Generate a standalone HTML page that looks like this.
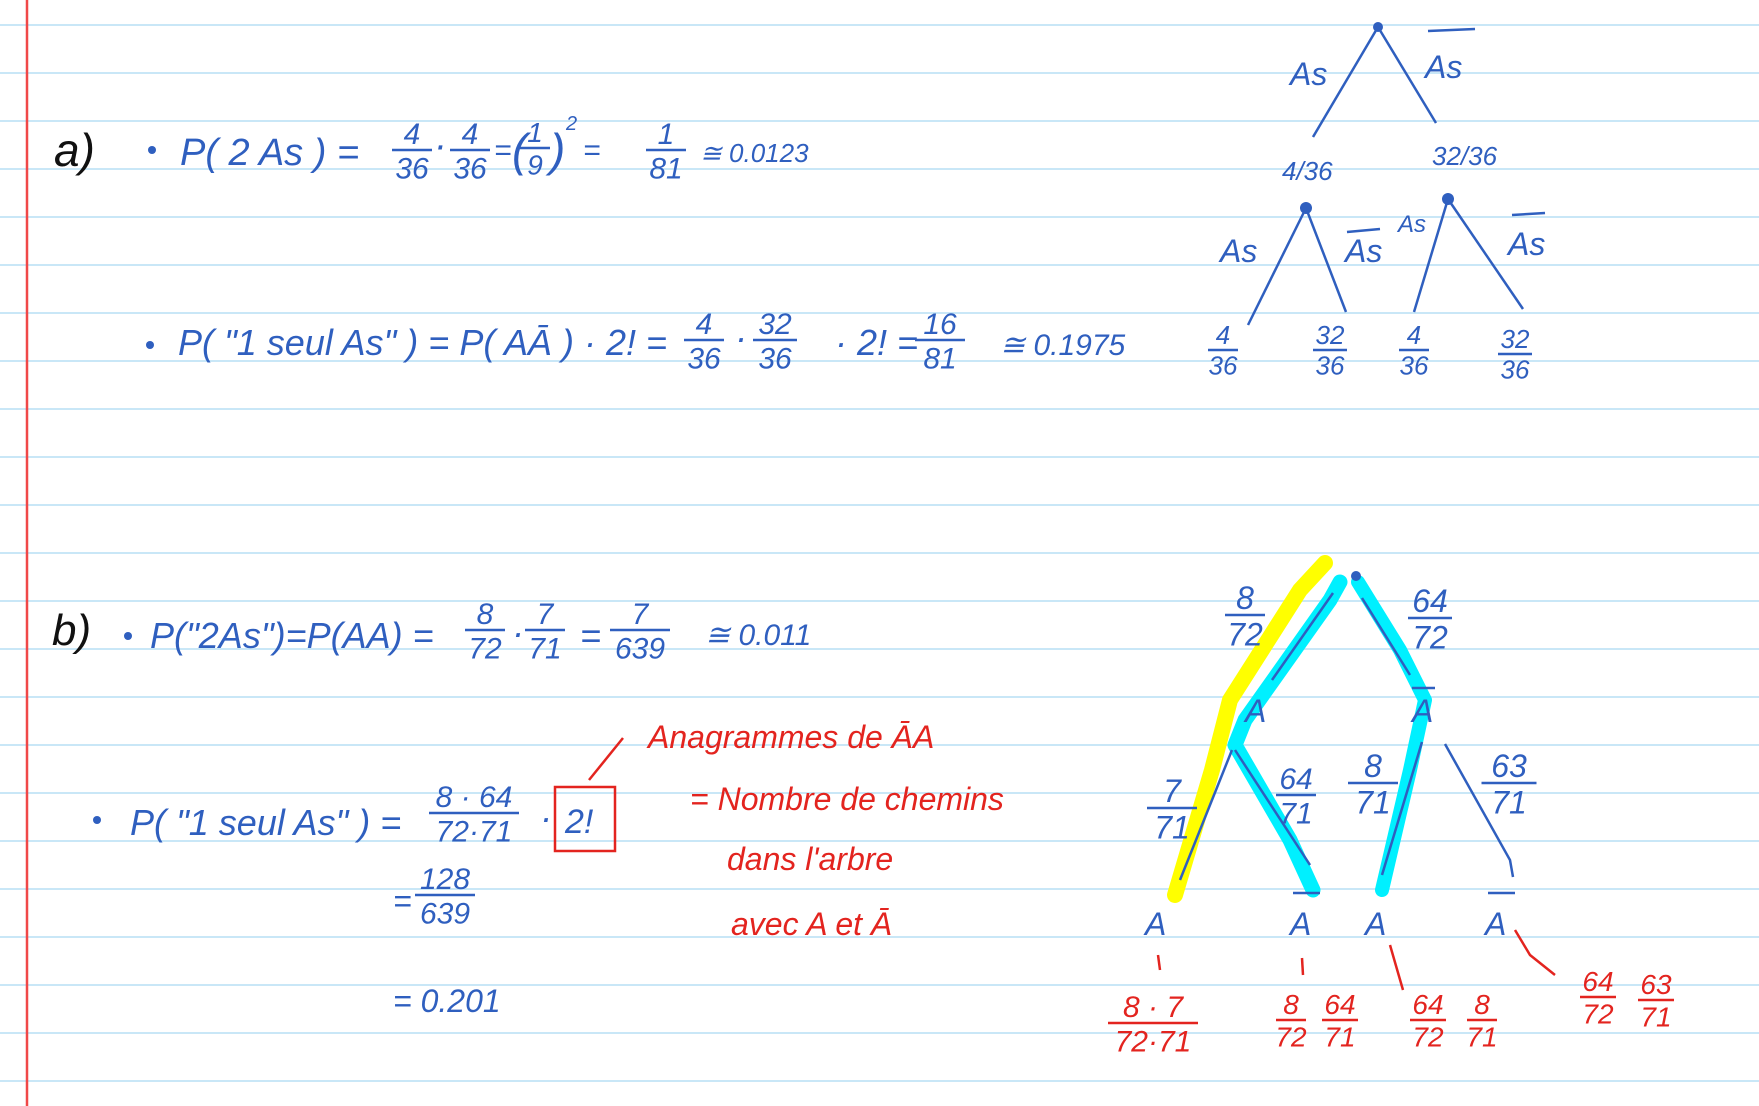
<!DOCTYPE html>
<html><head><meta charset="utf-8"><style>
html,body{margin:0;padding:0;background:#fff;}
svg{display:block;}
text{font-family:"Liberation Sans",sans-serif;font-style:italic;}
.b{fill:#2f5fbf;}
.r{fill:#e3241f;}
.k{fill:#111;}
</style></head><body>
<svg id="page" width="1759" height="1106" viewBox="0 0 1759 1106" xmlns="http://www.w3.org/2000/svg">
<g id="rules"></g>
<line x1="27" y1="0" x2="27" y2="1106" stroke="#f04848" stroke-width="2.5"/>

<!-- part a -->
<text class="k" x="54" y="166" font-size="46">a)</text>
<g class="b" font-size="38">
<circle cx="152" cy="150" r="4" fill="#2f5fbf"/>
<text x="180" y="165">P( 2 As ) =</text>
<text x="434" y="158">·</text>
<text x="494" y="160" font-size="30">=</text>
<text x="512" y="166" font-size="46">(</text>
<text x="550" y="166" font-size="46">)</text>
<text x="566" y="130" font-size="20">2</text>
<text x="583" y="160" font-size="30">=</text>
<text x="700" y="162" font-size="26">≅ 0.0123</text>
</g>
<g class="b" font-size="36">
<circle cx="150" cy="345" r="4" fill="#2f5fbf"/>
<text x="178" y="355">P( "1 seul As" ) = P( AĀ ) · 2! =</text>
<text x="735" y="350">·</text>
<text x="835" y="355">· 2! =</text>
<text x="1000" y="355" font-size="30">≅ 0.1975</text>
</g>

<!-- tree a -->
<g stroke="#2f5fbf" stroke-width="2.5" fill="none">
<path d="M1378 27 L1313 137"/><path d="M1378 27 L1436 123"/>
<path d="M1306 208 L1248 325"/><path d="M1306 208 L1346 312"/>
<path d="M1448 199 L1414 312"/><path d="M1448 199 L1523 309"/>
<path d="M1428 31 L1475 29"/><path d="M1347 232 L1380 229"/><path d="M1512 215 L1545 213"/>
</g>
<g class="b" font-size="32">
<circle cx="1378" cy="27" r="5" fill="#2f5fbf"/><circle cx="1306" cy="208" r="6" fill="#2f5fbf"/><circle cx="1448" cy="199" r="6" fill="#2f5fbf"/>
<text x="1290" y="85">As</text><text x="1425" y="78">As</text>
<text x="1282" y="180" font-size="26">4/36</text><text x="1432" y="165" font-size="26">32/36</text>
<text x="1220" y="262">As</text><text x="1345" y="262">As</text><text x="1398" y="232" font-size="24">As</text><text x="1508" y="255">As</text>
</g>

<!-- part b -->
<text class="k" x="52" y="645" font-size="44">b)</text>
<g class="b" font-size="36">
<circle cx="128" cy="636" r="4" fill="#2f5fbf"/>
<text x="150" y="648">P("2As")=P(AA) =</text>
<text x="512" y="645">·</text>
<text x="580" y="648">=</text>
<text x="705" y="645" font-size="30">≅ 0.011</text>
</g>
<g class="b" font-size="36">
<circle cx="97" cy="820" r="4" fill="#2f5fbf"/>
<text x="130" y="835">P( "1 seul As" ) =</text>
<text x="540" y="830">·</text>
<text x="565" y="833" font-size="34">2!</text>
<text x="393" y="912" font-size="32">=</text>
<text x="393" y="1012" font-size="32">= 0.201</text>
</g>
<rect x="555" y="787" width="60" height="64" fill="none" stroke="#e3241f" stroke-width="2.5"/>
<path d="M589 780 L623 738" stroke="#e3241f" stroke-width="2.5" fill="none"/>
<g class="r" font-size="32">
<text x="648" y="748">Anagrammes de ĀA</text>
<text x="690" y="810">= Nombre de chemins</text>
<text x="727" y="870">dans l'arbre</text>
<text x="731" y="935">avec A et Ā</text>
</g>

<!-- tree b -->
<g fill="none" stroke-linecap="round" stroke-linejoin="round">
<path d="M1325 563 L1300 590 L1230 700 L1212 770 L1175 895" stroke="#ffff00" stroke-width="16"/>
<path d="M1340 582 L1330 600 L1245 720 L1235 745 L1290 840 L1313 890" stroke="#00f0ff" stroke-width="15"/>
<path d="M1358 582 L1400 650 L1425 700 L1410 770 L1382 890" stroke="#00f0ff" stroke-width="14"/>
</g>
<g stroke="#2f5fbf" stroke-width="2.5" fill="none">
<path d="M1333 593 L1272 680"/><path d="M1362 598 L1410 675"/>
<path d="M1232 750 L1180 880"/><path d="M1235 750 L1310 865"/>
<path d="M1422 742 L1382 875"/><path d="M1445 744 L1510 860 L1513 877"/>
</g>
<g class="b" font-size="32">
<circle cx="1356" cy="576" r="5" fill="#2f5fbf"/>
<text x="1245" y="722">A</text><text x="1412" y="722">A</text><path d="M1412 688 L1435 688" stroke="#2f5fbf" stroke-width="2.5"/>
<text x="1145" y="935">A</text><text x="1290" y="935">A</text><text x="1365" y="935">A</text><text x="1485" y="935">A</text>
<path d="M1293 893 L1320 893" stroke="#2f5fbf" stroke-width="2.5"/><path d="M1488 893 L1515 893" stroke="#2f5fbf" stroke-width="2.5"/>
</g>
<g stroke="#e3241f" stroke-width="2.5" fill="none">
<path d="M1158 955 L1160 970"/><path d="M1302 958 L1303 975"/><path d="M1390 945 L1403 990"/><path d="M1515 930 L1530 955 L1555 975"/>
</g>
<g id="fracs"></g>
</svg>
<script>
const ruleYs = [];
for (let y = 25; y < 1106; y += 48) ruleYs.push(y);
const NS = 'http://www.w3.org/2000/svg';
const rules = document.getElementById('rules');
ruleYs.forEach(y => {
  const l = document.createElementNS(NS, 'line');
  l.setAttribute('x1', 0); l.setAttribute('x2', 1759);
  l.setAttribute('y1', y); l.setAttribute('y2', y);
  l.setAttribute('stroke', '#c9e7f7'); l.setAttribute('stroke-width', '2');
  
  
  rules.appendChild(l);
});
// fractions: [cx, barY, numerator, denominator, color, size, barWidth]
const fracList = [
  [412,150,'4','36','#2f5fbf',30,40],[470,150,'4','36','#2f5fbf',30,40],
  [535,148,'1','9','#2f5fbf',28,30],[666,150,'1','81','#2f5fbf',30,40],
  [704,340,'4','36','#2f5fbf',30,40],[775,340,'32','36','#2f5fbf',30,44],
  [940,340,'16','81','#2f5fbf',30,50],
  [1223,350,'4','36','#2f5fbf',26,30],[1330,350,'32','36','#2f5fbf',26,34],
  [1414,350,'4','36','#2f5fbf',26,30],[1515,354,'32','36','#2f5fbf',26,34],
  [485,630,'8','72','#2f5fbf',30,40],[545,630,'7','71','#2f5fbf',30,40],
  [640,630,'7','639','#2f5fbf',30,60],
  [474,813,'8 · 64','72·71','#2f5fbf',30,90],[445,895,'128','639','#2f5fbf',30,60],
  [1245,615,'8','72','#2f5fbf',32,40],[1430,618,'64','72','#2f5fbf',32,44],
  [1172,808,'7','71','#2f5fbf',32,50],[1296,795,'64','71','#2f5fbf',30,40],
  [1373,783,'8','71','#2f5fbf',32,50],[1509,783,'63','71','#2f5fbf',32,55],
  [1153,1023,'8 · 7','72·71','#e3241f',30,90],[1291,1020,'8','72','#e3241f',28,30],
  [1340,1020,'64','71','#e3241f',28,36],[1428,1020,'64','72','#e3241f',28,36],
  [1482,1020,'8','71','#e3241f',28,30],[1598,997,'64','72','#e3241f',28,36],
  [1656,1000,'63','71','#e3241f',28,36]
];
const fg = document.getElementById('fracs');
fracList.forEach(f => {
  const [cx, by, n, d, col, sz, w] = f;
  const g = document.createElementNS(NS, 'g');
  
  
  const t1 = document.createElementNS(NS, 'text');
  t1.setAttribute('x', cx); t1.setAttribute('y', by - 6); t1.setAttribute('text-anchor', 'middle');
  t1.setAttribute('font-size', sz); t1.setAttribute('fill', col); t1.textContent = n;
  const ln = document.createElementNS(NS, 'line');
  ln.setAttribute('x1', cx - w/2); ln.setAttribute('x2', cx + w/2);
  ln.setAttribute('y1', by); ln.setAttribute('y2', by);
  ln.setAttribute('stroke', col); ln.setAttribute('stroke-width', '2.5');
  const t2 = document.createElementNS(NS, 'text');
  t2.setAttribute('x', cx); t2.setAttribute('y', by + sz*0.95); t2.setAttribute('text-anchor', 'middle');
  t2.setAttribute('font-size', sz); t2.setAttribute('fill', col); t2.textContent = d;
  g.appendChild(t1); g.appendChild(ln); g.appendChild(t2);
  fg.appendChild(g);
});
</script>
</body></html>
